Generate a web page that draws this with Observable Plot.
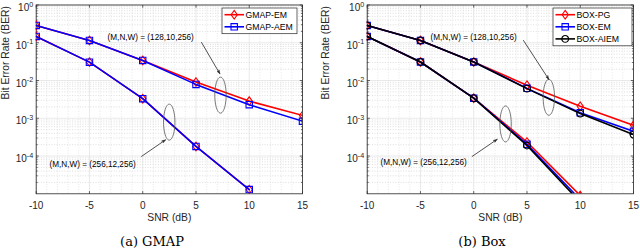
<!DOCTYPE html>
<html><head><meta charset="utf-8">
<script src="https://cdn.jsdelivr.net/npm/d3@7"></script>
<script src="https://cdn.jsdelivr.net/npm/@observablehq/plot@0.6"></script>
<style>
body{margin:0;background:#fff;}
#wrap{position:relative;width:640px;height:250px;overflow:hidden;font-family:"Liberation Sans",Arial,sans-serif;background:#fff;}
.panel{position:absolute;top:0;width:320px;height:228px;}
.cap{position:absolute;top:234px;font-family:"DejaVu Serif",serif;font-size:13px;line-height:15px;color:#000;white-space:nowrap;transform:translateX(-50%);}
.leg{position:absolute;}
</style></head>
<body>
<div id="wrap">
  <div class="panel" id="pa" style="left:0"></div>
  <div class="panel" id="pb" style="left:320px"></div>
  <div class="cap" style="left:152px">(a) GMAP</div>
  <div class="cap" style="left:482px">(b) Box</div>
</div>
<script>
// ---------- data ----------
const snr = [-10, -5, 0, 5, 10, 15];
const snrLow = [-10, -5, 0, 5, 10];
const xTickLabels = ["-10", "-5", "0", "5", "10", "15"];
const yTickExponents = [0, -1, -2, -3, -4];
const configs = ["(M,N,W) = (128,10,256)", "(M,N,W) = (256,12,256)"];

// (a) GMAP
const gmapNames = ["GMAP-EM", "GMAP-AEM"];
const gmapEM_128  = [0.287, 0.115, 0.034, 0.0091, 0.00285, 0.00119];
const gmapAEM_128 = [0.287, 0.115, 0.034, 0.0079, 0.00229, 0.00084];
const gmapEM_256  = [0.147, 0.0307, 0.0033, 0.00018, 0.0000129];
const gmapAEM_256 = [0.147, 0.0307, 0.0033, 0.00018, 0.0000129];

// (b) Box
const boxNames = ["BOX-PG", "BOX-EM", "BOX-AIEM"];
const boxPG_128   = [0.287, 0.115, 0.031, 0.0075, 0.00207, 0.00065];
const boxEM_128   = [0.287, 0.115, 0.031, 0.0062, 0.00140, 0.00045];
const boxAIEM_128 = [0.287, 0.115, 0.031, 0.0061, 0.00133, 0.00037];
const boxPG_256   = [0.147, 0.031, 0.0034, 0.000235, 0.0000090];
const boxEM_256   = [0.147, 0.031, 0.0034, 0.000205, 0.0000070];
const boxAIEM_256 = [0.147, 0.031, 0.0034, 0.000190, 0.0000060];

// ---------- helpers ----------
function buildRows(names, hi, lo) {
  const rows = [];
  names.forEach((n, i) => {
    hi[i].forEach((v, j) => rows.push({name: n, cfg: configs[0], snr: snr[j], ber: v}));
    lo[i].forEach((v, j) => rows.push({name: n, cfg: configs[1], snr: snrLow[j], ber: v}));
  });
  return rows;
}
const symDiamond = {draw(c){ c.moveTo(0,-4.3); c.lineTo(3.1,0); c.lineTo(0,4.3); c.lineTo(-3.1,0); c.closePath(); }};
const symSquare = {draw(c){ c.moveTo(-3.2,-3.2); c.lineTo(3.2,-3.2); c.lineTo(3.2,3.2); c.lineTo(-3.2,3.2); c.closePath(); }};
const symCircle = {draw(c){ c.moveTo(3.4,0); c.arc(0,0,3.4,0,2*Math.PI); c.closePath(); }};
function symEllipse(rx, ry){ return {draw(c){ const n=48; for(let k=0;k<=n;k++){ const a=2*Math.PI*k/n; const px=rx*Math.cos(a), py=ry*Math.sin(a); k?c.lineTo(px,py):c.moveTo(px,py);} c.closePath(); }}; }
function symTick(dx, dy){ return {draw(c){ c.moveTo(0,0); c.lineTo(dx,dy); }}; }

const majorY = yTickExponents.map(e => 10 ** e);
const minorY = [];
for (let e = -5; e < 0; e++) for (let m = 2; m <= 9; m++) minorY.push(m * 10 ** e);
const minorX = d3.range(-9, 15).filter(v => !snr.includes(v));

function chart({rows, names, colors, symbols, marginLeft, marginRight, notes}) {
  const marks = [
    Plot.ruleY(minorY, {y: d => d, stroke: "#c8c8c8", strokeWidth: 0.6, strokeDasharray: "1,1.6"}),
    Plot.ruleX(minorX, {x: d => d, stroke: "#d8d8d8", strokeWidth: 0.6, strokeDasharray: "1,1.6"}),
    Plot.ruleX(snr, {x: d => d, stroke: "#dfdfdf", strokeWidth: 0.7}),
    Plot.ruleY(majorY, {y: d => d, stroke: "#dfdfdf", strokeWidth: 0.7}),
    Plot.frame({stroke: "#262626", strokeWidth: 0.8}),
    Plot.dot(majorY, {y: d => d, frameAnchor: "left", symbol: symTick(2.7, 0), stroke: "#262626", strokeWidth: 0.7}),
    Plot.dot(majorY, {y: d => d, frameAnchor: "right", symbol: symTick(-2.7, 0), stroke: "#262626", strokeWidth: 0.7}),
    Plot.dot(minorY, {y: d => d, frameAnchor: "left", symbol: symTick(1.6, 0), stroke: "#262626", strokeWidth: 0.6}),
    Plot.dot(minorY, {y: d => d, frameAnchor: "right", symbol: symTick(-1.6, 0), stroke: "#262626", strokeWidth: 0.6}),
    Plot.dot(snr, {x: d => d, frameAnchor: "bottom", symbol: symTick(0, -2.7), stroke: "#262626", strokeWidth: 0.7}),
    Plot.dot(snr, {x: d => d, frameAnchor: "top", symbol: symTick(0, 2.7), stroke: "#262626", strokeWidth: 0.7}),
  ];
  names.forEach((n, i) => {
    const d = rows.filter(r => r.name === n);
    marks.push(Plot.line(d, {x: "snr", y: "ber", z: "cfg", stroke: "name", strokeWidth: 1.6, clip: true}));
    marks.push(Plot.dot(d, {x: "snr", y: "ber", symbol: symbols[i], stroke: "name", fill: "none", strokeWidth: 1.1, clip: true}));
  });
  notes.forEach(a => {
    marks.push(Plot.dot([a], {x: "ex", y: "ey", symbol: symEllipse(5.7, 18), stroke: "#555", fill: "none", strokeWidth: 0.8}));
    marks.push(Plot.arrow([a], {x1: "ax1", y1: "ay1", x2: "ax2", y2: "ay2", stroke: "#262626", strokeWidth: 0.8, headLength: 7, headAngle: 36}));
    marks.push(Plot.text([a], {x: "tx", y: "ty", text: "text", textAnchor: "start", fontSize: 8.2, fill: "#000"}));
  });
  marks.push(
    Plot.axisX(snr, {tickSize: 0, tickPadding: 8, tickFormat: d => xTickLabels[snr.indexOf(d)], fontSize: 10, fill: "#262626"}),
    Plot.axisY(majorY, {tickSize: 0, tickPadding: 3, tickFormat: d => "10^" + Math.round(Math.log10(d)), fontSize: 10, fill: "#262626"}),
    Plot.text(["SNR (dB)"], {text: d => d, frameAnchor: "bottom", dy: 26.7, fontSize: 10.3, fill: "#262626"}),
    Plot.text(["Bit Error Rate (BER)"], {text: d => d, frameAnchor: "left", rotate: -90, dx: -(marginLeft - 5), fontSize: 10.3, fill: "#262626"})
  );
  const svg = Plot.plot({
    width: 320, height: 228,
    marginLeft, marginRight, marginTop: 4.5, marginBottom: 34.7,
    x: {domain: [-10, 15], label: null},
    y: {type: "log", domain: [1e-5, 1], label: null},
    color: {domain: names, range: colors},
    style: {fontFamily: "'Liberation Sans', Arial, sans-serif", fontSize: "10px", background: "white", color: "#262626"},
    marks
  });
  const ns = "http://www.w3.org/2000/svg";
  // superscript exponents on y tick labels
  svg.querySelectorAll('g[aria-label="y-axis tick label"] text').forEach(t => {
    const s = t.textContent;
    if (!s.startsWith("10^")) return;
    const exp = s.slice(3);
    t.textContent = "";
    const b = document.createElementNS(ns, "tspan"); b.textContent = "10";
    const e = document.createElementNS(ns, "tspan"); e.textContent = exp;
    e.setAttribute("dy", "-4.5"); e.setAttribute("font-size", "7.2");
    t.appendChild(b); t.appendChild(e);
    const tr = t.getAttribute("transform") || "";
    t.setAttribute("transform", tr + " translate(0,3)");
  });
  // filled arrow heads (MATLAB style)
  svg.querySelectorAll('g[aria-label="arrow"] path').forEach(p => {
    const nums = (p.getAttribute("d") || "").match(/-?\d*\.?\d+(e-?\d+)?/g);
    if (!nums || nums.length < 10) return;
    const v = nums.map(Number);
    const [x1, y1, x2, y2] = v;
    const hx1 = v[v.length - 6], hy1 = v[v.length - 5], hx2 = v[v.length - 2], hy2 = v[v.length - 1];
    p.setAttribute("d", `M${x1},${y1}L${x2},${y2}`);
    const h = document.createElementNS(ns, "path");
    h.setAttribute("d", `M${hx1},${hy1}L${x2},${y2}L${hx2},${hy2}L${(x2*0.3+(hx1+hx2)/2*0.7)},${(y2*0.3+(hy1+hy2)/2*0.7)}Z`);
    h.setAttribute("fill", "#262626"); h.setAttribute("stroke", "#262626"); h.setAttribute("stroke-width", "0.5");
    p.parentNode.appendChild(h);
  });
  return svg;
}

function legend(parent, names, colors, symbols, left, top, width) {
  const rowH = 12.1, h = names.length * rowH + 1.5;
  const svg = d3.select(parent).append("svg").attr("class", "leg")
    .attr("width", width + 2).attr("height", h + 2)
    .style("left", (left - 1) + "px").style("top", (top - 1) + "px");
  svg.append("rect").attr("x", 1).attr("y", 1).attr("width", width).attr("height", h)
    .attr("fill", "#fff").attr("stroke", "#262626").attr("stroke-width", 0.7);
  names.forEach((n, i) => {
    const y = 1 + 6.7 + i * rowH;
    const g = svg.append("g");
    g.append("line").attr("x1", 3.5).attr("x2", 23).attr("y1", y).attr("y2", y)
      .attr("stroke", colors[i]).attr("stroke-width", 1.6);
    const p = d3.path(); symbols[i].draw(p);
    g.append("path").attr("d", p.toString()).attr("transform", `translate(13.2,${y})`)
      .attr("fill", "none").attr("stroke", colors[i]).attr("stroke-width", 1.1);
    g.append("text").attr("x", 24.5).attr("y", y).attr("dy", "0.35em")
      .attr("font-size", 8.7).attr("fill", "#000")
      .attr("font-family", "'Liberation Sans', Arial, sans-serif").text(n);
  });
}

// ---------- build ----------
const notesA = [
  {text: configs[0], tx: -3.3, ty: 0.141, ax1: 5.52, ay1: 0.102, ax2: 7.24, ay2: 0.0151, ex: 7.3, ey: 0.0041},
  {text: configs[1], tx: -8.75, ty: 0.000059, ax1: -0.11, ay1: 0.000098, ax2: 2.14, ay2: 0.000268, ex: 2.49, ey: 0.00079}
];
const notesB = [
  {text: configs[0], tx: -4.06, ty: 0.141, ax1: 4.67, ay1: 0.115, ax2: 7.05, ay2: 0.0107, ex: 7.05, ey: 0.0036},
  {text: configs[1], tx: -8.75, ty: 0.000068, ax1: -0.14, ay1: 0.000098, ax2: 2.2, ay2: 0.000277, ex: 2.99, ey: 0.00071}
];

const gmapRows = buildRows(gmapNames, [gmapEM_128, gmapAEM_128], [gmapEM_256, gmapAEM_256]);
const boxRows = buildRows(boxNames, [boxPG_128, boxEM_128, boxAIEM_128], [boxPG_256, boxEM_256, boxAIEM_256]);

document.getElementById("pa").appendChild(chart({
  rows: gmapRows, names: gmapNames, colors: ["#ff0000", "#0000ff"], symbols: [symDiamond, symSquare],
  marginLeft: 35.7, marginRight: 18, notes: notesA
}));
document.getElementById("pb").appendChild(chart({
  rows: boxRows, names: boxNames, colors: ["#ff0000", "#0000ff", "#000000"], symbols: [symDiamond, symSquare, symCircle],
  marginLeft: 46.7, marginRight: 7, notes: notesB
}));
const wrap = document.getElementById("wrap");
legend(wrap, gmapNames, ["#ff0000", "#0000ff"], [symDiamond, symSquare], 222, 8.3, 75);
legend(wrap, boxNames, ["#ff0000", "#0000ff", "#000000"], [symDiamond, symSquare, symCircle], 553.3, 8.3, 79);
</script>
</body></html>
